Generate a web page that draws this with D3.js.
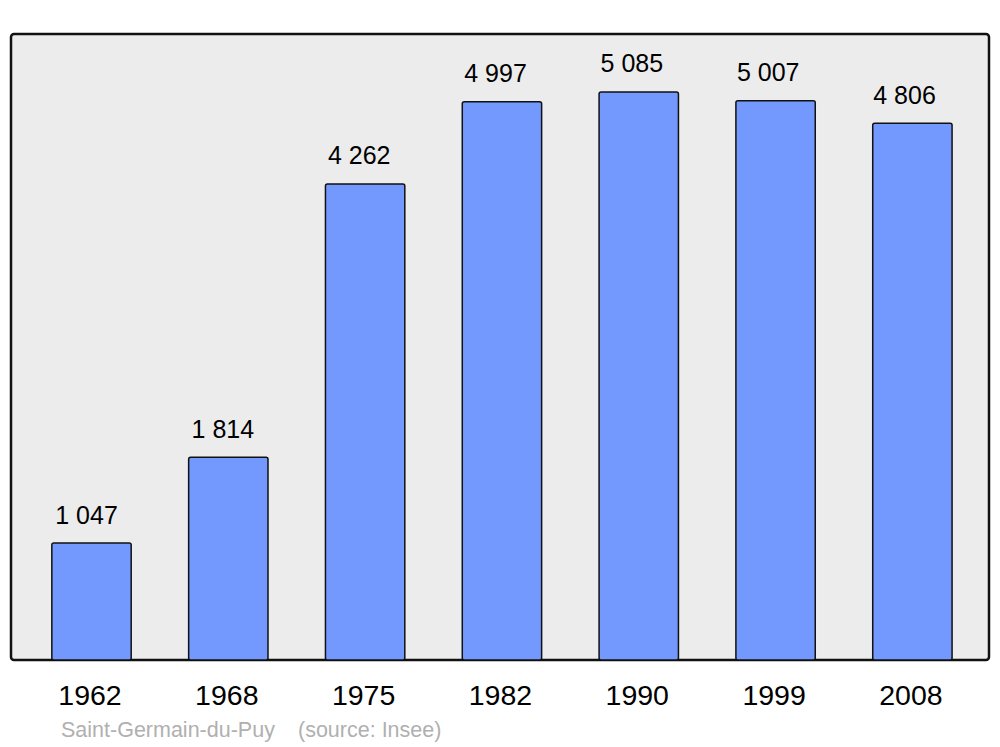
<!DOCTYPE html>
<html><head><meta charset="utf-8">
<script src="https://cdn.jsdelivr.net/npm/d3@7"></script>
<style>body{margin:0;background:#fff}svg{display:block}text{font-family:"Liberation Sans",Arial,sans-serif}</style>
</head><body>
<script>
const years = ["1962","1968","1975","1982","1990","1999","2008"];
const population = [1047, 1814, 4262, 4997, 5085, 5007, 4806];
const valueLabels = ["1 047","1 814","4 262","4 997","5 085","5 007","4 806"];
const placeName = "Saint-Germain-du-Puy";
const sourceNote = "(source: Insee)";

const W = 1000, H = 747;
const svg = d3.select("body").append("svg").attr("width", W).attr("height", H);

const panel = {x0: 11, x1: 989, y0: 34, y1: 660};
svg.append("rect").attr("x", panel.x0).attr("y", panel.y0)
  .attr("width", panel.x1 - panel.x0).attr("height", panel.y1 - panel.y0)
  .attr("rx", 3).attr("fill", "#ececec").attr("stroke", "#111").attr("stroke-width", 2.5);

const x = d3.scaleBand().domain(years).range([23.1, 980.8]).paddingInner(0.42).paddingOuter(0.21);
const xLabel = d3.scalePoint().domain(years).range([86.5, 904.5]);
const y = d3.scaleLinear().domain([0, 5604]).range([panel.y1, panel.y0]);

const data = years.map((yr, i) => ({yr, v: population[i], lab: valueLabels[i]}));

svg.selectAll("rect.bar").data(data).enter().append("rect").attr("class", "bar")
  .attr("x", d => x(d.yr)).attr("y", d => y(d.v))
  .attr("width", x.bandwidth()).attr("height", d => y(0) - y(d.v))
  .attr("rx", 2).attr("fill", "#7399ff").attr("stroke", "#111").attr("stroke-width", 1.5);

svg.selectAll("text.val").data(data).enter().append("text").attr("class", "val")
  .attr("x", d => xLabel(d.yr)).attr("y", d => y(d.v) - 19.5)
  .attr("text-anchor", "middle").attr("font-size", 25).attr("fill", "#000").text(d => d.lab);

svg.selectAll("text.year").data(data).enter().append("text").attr("class", "year")
  .attr("x", d => x(d.yr) + x.bandwidth() / 2 - 1.5).attr("y", 705)
  .attr("text-anchor", "middle").attr("font-size", 28.5).attr("fill", "#000").text(d => d.yr);

svg.append("text").attr("x", 61).attr("y", 737).attr("font-size", 21.5).attr("fill", "#b0b0b0").text(placeName);
svg.append("text").attr("x", 298).attr("y", 737).attr("font-size", 21.5).attr("fill", "#b0b0b0").text(sourceNote);
</script>
</body></html>
